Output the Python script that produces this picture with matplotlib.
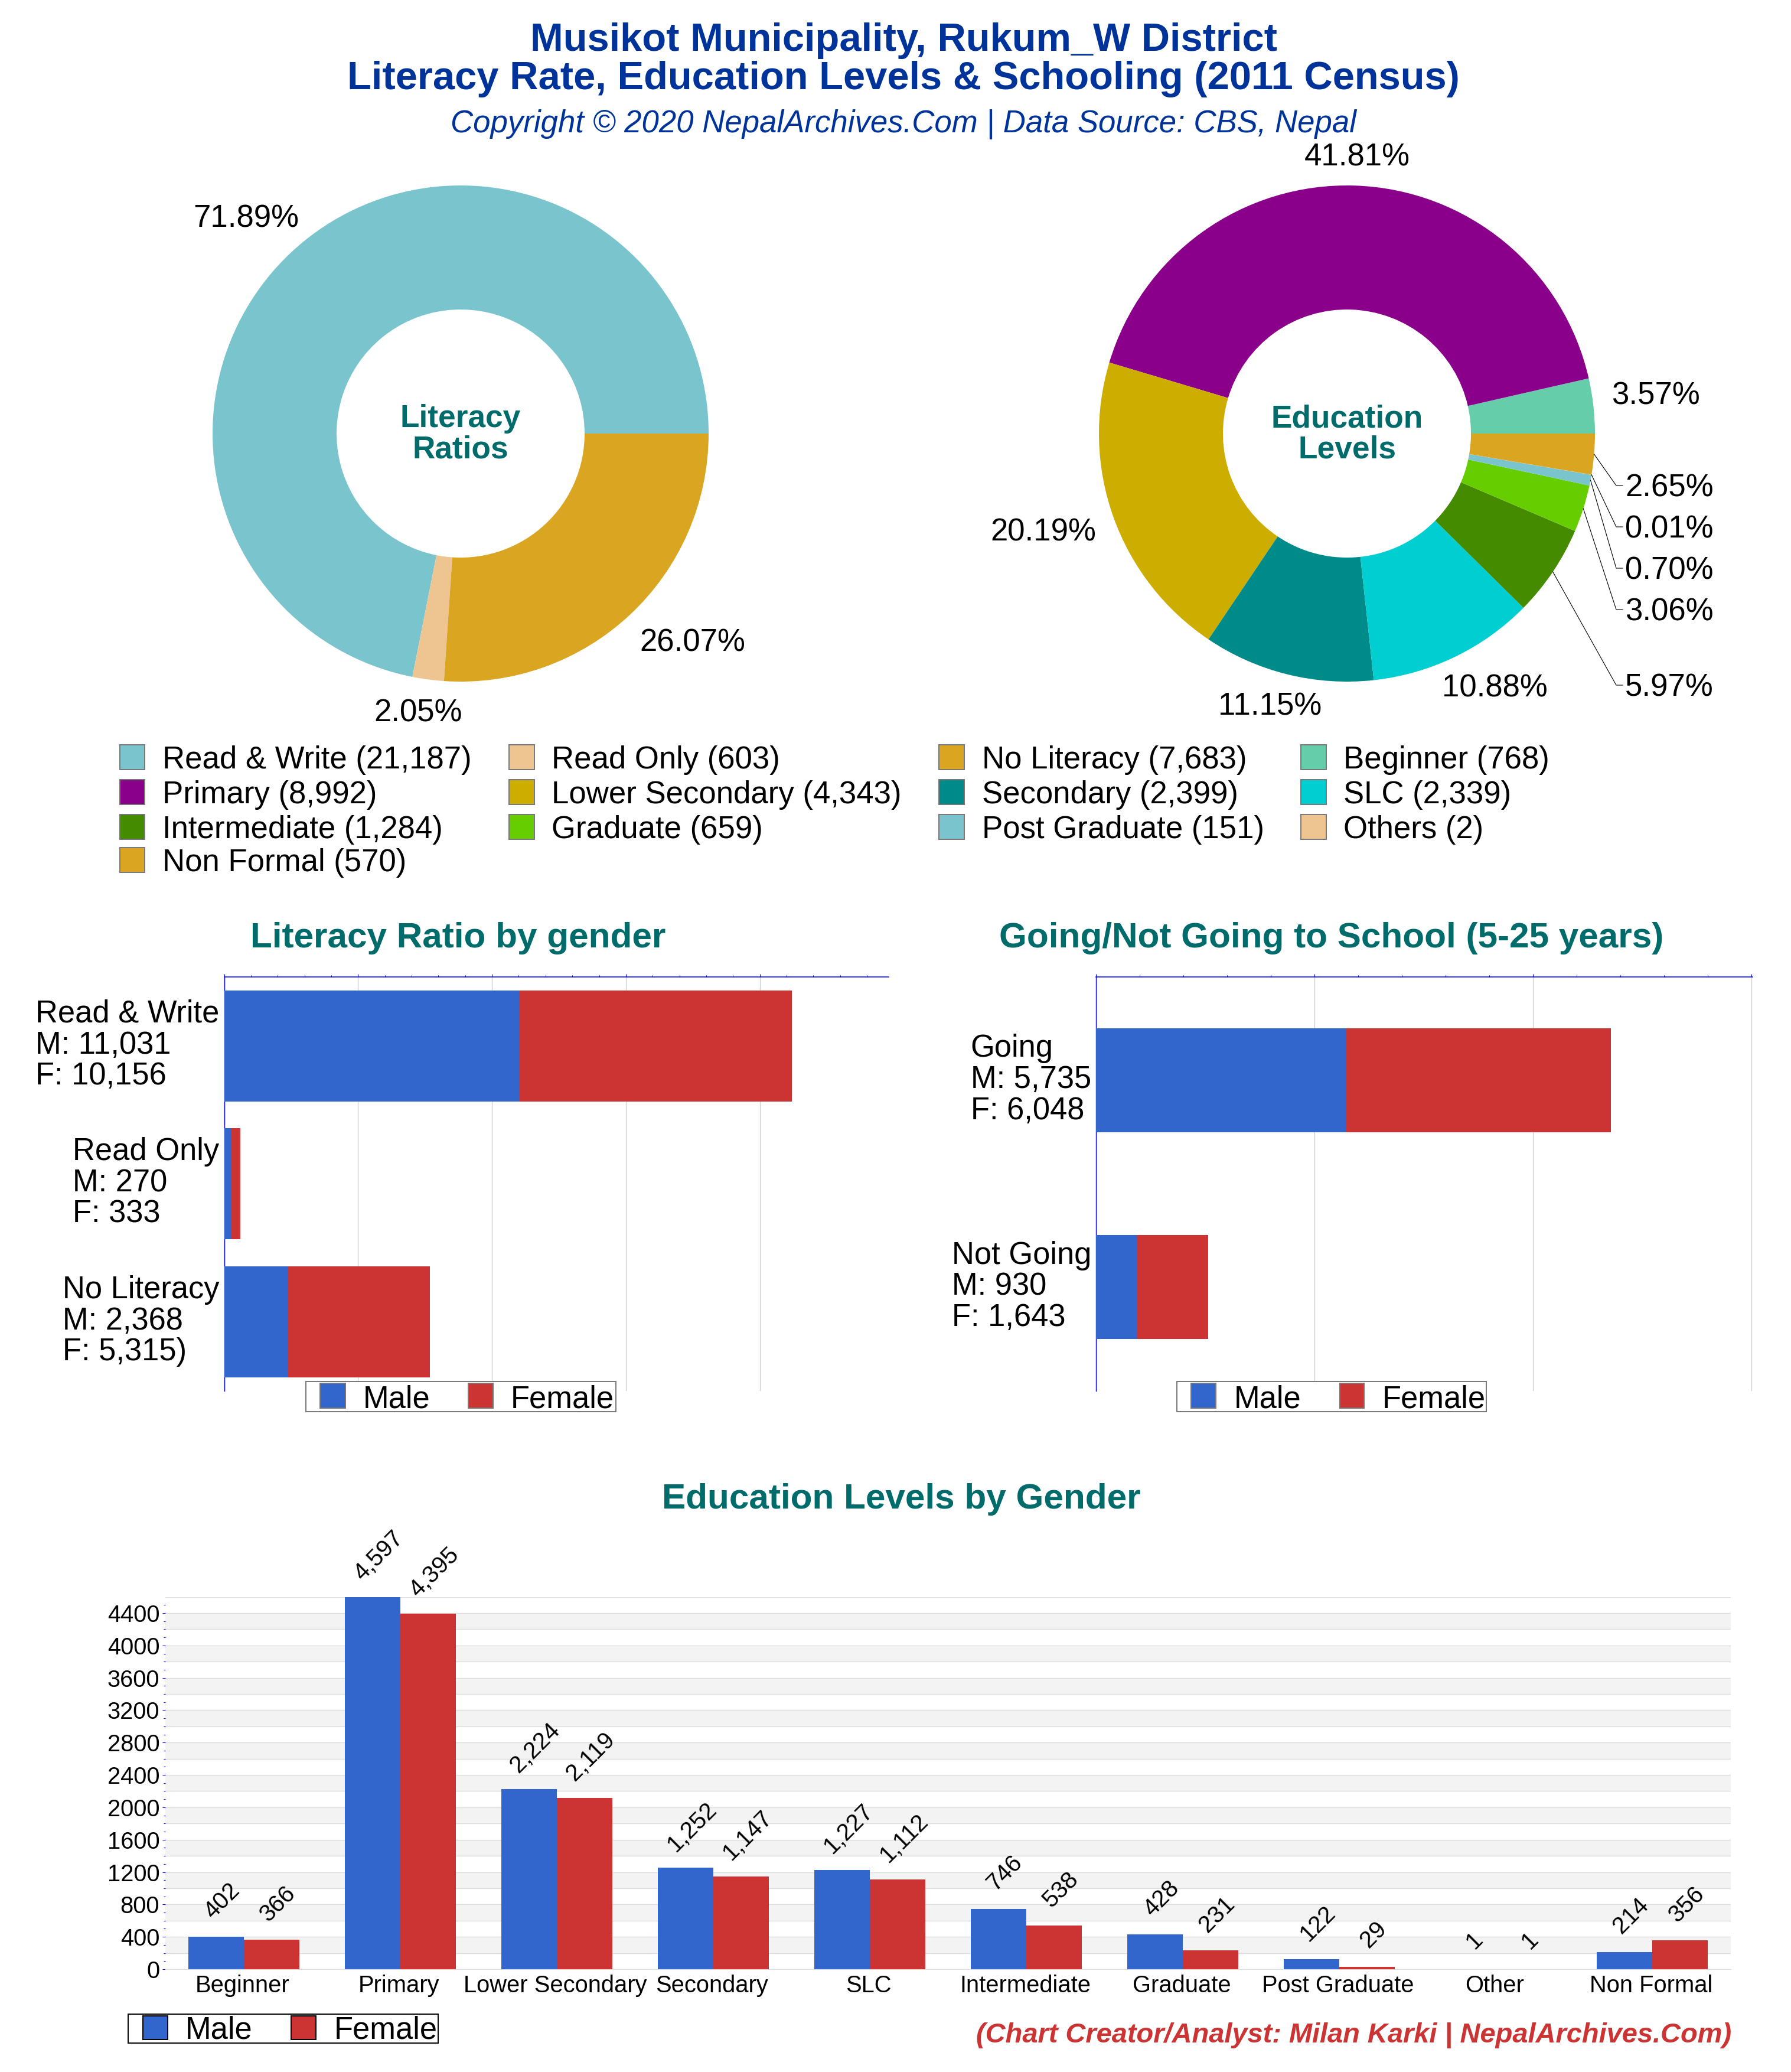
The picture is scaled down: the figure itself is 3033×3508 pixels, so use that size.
import matplotlib
matplotlib.use("Agg")
import matplotlib.pyplot as plt
from matplotlib.patches import Rectangle
from matplotlib.ticker import MultipleLocator
import numpy as np

plt.rcParams['font.family'] = ['Liberation Sans', 'DejaVu Sans']

W, H = 3033, 3508
DPI = 100
BLUE, RED = '#3366CC', '#CC3333'
TEAL = '#006B6B'
NAVY = '#003399'
AXIS = '#0000FF'

# ---------- data ----------
literacy_labels = ['Read & Write', 'Read Only', 'No Literacy']
literacy_values = [21187, 603, 7683]
literacy_colors = ['#7AC5CD', '#EEC591', '#DAA520']

edu_labels = ['Beginner', 'Primary', 'Lower Secondary', 'Secondary', 'SLC',
              'Intermediate', 'Graduate', 'Post Graduate', 'Others', 'Non Formal']
edu_values = [768, 8992, 4343, 2399, 2339, 1284, 659, 151, 2, 570]
edu_colors = ['#66CDAA', '#8B008B', '#CDAD00', '#008B8B', '#00CED1',
              '#458B00', '#66CD00', '#7AC5CD', '#EEC591', '#DAA520']

lit_bar_labels = ['Read & Write\nM: 11,031\nF: 10,156', 'Read Only\nM: 270\nF: 333',
                  'No Literacy\nM: 2,368\nF: 5,315)']
lit_male = [11031, 270, 2368]
lit_female = [10156, 333, 5315]

school_labels = ['Going\nM: 5,735\nF: 6,048', 'Not Going\nM: 930\nF: 1,643']
school_male = [5735, 930]
school_female = [6048, 1643]

level_labels = ['Beginner', 'Primary', 'Lower Secondary', 'Secondary', 'SLC',
                'Intermediate', 'Graduate', 'Post Graduate', 'Other', 'Non Formal']
level_male = [402, 4597, 2224, 1252, 1227, 746, 428, 122, 1, 214]
level_female = [366, 4395, 2119, 1147, 1112, 538, 231, 29, 1, 356]

legend_rows = [
    [('Read & Write (21,187)', '#7AC5CD'), ('Read Only (603)', '#EEC591'),
     ('No Literacy (7,683)', '#DAA520'), ('Beginner (768)', '#66CDAA')],
    [('Primary (8,992)', '#8B008B'), ('Lower Secondary (4,343)', '#CDAD00'),
     ('Secondary (2,399)', '#008B8B'), ('SLC (2,339)', '#00CED1')],
    [('Intermediate (1,284)', '#458B00'), ('Graduate (659)', '#66CD00'),
     ('Post Graduate (151)', '#7AC5CD'), ('Others (2)', '#EEC591')],
    [('Non Formal (570)', '#DAA520')],
]

# ---------- helpers ----------
fig = plt.figure(figsize=(W / DPI, H / DPI), dpi=DPI, facecolor='white')


def axes_px(x0, y0, x1, y1, **kw):
    return fig.add_axes([x0 / W, 1 - y1 / H, (x1 - x0) / W, (y1 - y0) / H], **kw)


ov = axes_px(0, 0, W, H, zorder=20)
ov.set_xlim(0, W)
ov.set_ylim(H, 0)
ov.axis('off')
ov.patch.set_alpha(0)


def txt(x, y, s, size, ha='center', **kw):
    """Text whose capital letters are centred vertically on y (pixels)."""
    base = y + 0.358 * size * DPI / 72
    return ov.text(x, base, s, fontsize=size, ha=ha, va='baseline', **kw)


def swatch(x0, y0, x1, y1, color, edge='#777777'):
    ov.add_patch(Rectangle((x0, y0), x1 - x0, y1 - y0, facecolor=color, edgecolor=edge, linewidth=1.4))


def bar_legend(box, sw1, t1, sw2, t2, y0, y1, ycenter, edge, boxedge):
    ov.add_patch(Rectangle((box[0], y0), box[1] - box[0], y1 - y0, facecolor='white', edgecolor=boxedge, linewidth=1.4))
    swatch(sw1[0], y0 + 3, sw1[1], y1 - 6, BLUE, edge)
    swatch(sw2[0], y0 + 3, sw2[1], y1 - 6, RED, edge)
    txt(t1, ycenter, 'Male', 37.8, ha='left', color='black')
    txt(t2, ycenter, 'Female', 37.8, ha='left', color='black')


# ---------- titles ----------
txt(1530, 62, 'Musikot Municipality, Rukum_W District', 48.2, color=NAVY, fontweight='bold')
txt(1530, 127, 'Literacy Rate, Education Levels & Schooling (2011 Census)', 48.2, color=NAVY, fontweight='bold')
txt(1530, 205, 'Copyright \u00a9 2020 NepalArchives.Com | Data Source: CBS, Nepal', 38, color=NAVY, fontstyle='italic')

# ---------- donuts ----------
R = 420


def donut(cx, cy, values, colors, l1, l2):
    ax = axes_px(cx - R, cy - R, cx + R, cy + R)
    ax.pie(values, colors=colors, startangle=0, counterclock=True, radius=1,
           wedgeprops=dict(width=0.5, linewidth=0))
    ax.set_xlim(-1, 1)
    ax.set_ylim(-1, 1)
    ax.set_aspect('equal')
    txt(cx, cy - 30, l1, 38.3, color=TEAL, fontweight='bold')
    txt(cx, cy + 22, l2, 38.3, color=TEAL, fontweight='bold')


def pct(values):
    return [f"{100 * v / sum(values):.2f}%" for v in values]


CX1, CX2, CY = 780, 2281, 734
donut(CX1, CY, literacy_values, literacy_colors, 'Literacy', 'Ratios')
donut(CX2, CY, edu_values, edu_colors, 'Education', 'Levels')

lit_pos = [(417, 366), (708, 1203), (1173, 1084)]
for (x, y), s in zip(lit_pos, pct(literacy_values)):
    txt(x, y, s, 38, color='black')

edu_pos = {0: (2804, 666), 1: (2298, 262), 2: (1767, 897), 3: (2151, 1192), 4: (2531, 1161)}
edu_text = pct(edu_values)
for i, (x, y) in edu_pos.items():
    txt(x, y, edu_text[i], 38, color='black')

# small slices with leader lines
cum = np.cumsum([0] + edu_values) / sum(edu_values)
mid = 2 * np.pi * (cum[:-1] + cum[1:]) / 2
leader_rows = {9: 822, 8: 892, 7: 962, 6: 1032, 5: 1160}
for i, y in leader_rows.items():
    sx = CX2 + R * np.cos(mid[i])
    sy = CY - R * np.sin(mid[i])
    ov.plot([sx, 2737, 2748], [sy, y, y], color='black', lw=0.8, solid_joinstyle='miter')
    txt(2752, y, edu_text[i], 38, ha='left', color='black')

# ---------- pie legend ----------
col_sw = [(203, 245), (862, 905), (1590, 1633), (2203, 2246)]
col_tx = [275, 934, 1663, 2275]
row_y = [1282, 1341, 1400, 1456]
for r, row in enumerate(legend_rows):
    for c, (label, color) in enumerate(row):
        swatch(col_sw[c][0], row_y[r] - 21, col_sw[c][1], row_y[r] + 21, color)
        txt(col_tx[c], row_y[r], label, 38, ha='left', color='black')

# ---------- stacked bars ----------


def stacked(ax, labels, male, female, xmax, height):
    y = np.arange(len(labels))
    ax.barh(y, male, height=height, color=BLUE, zorder=3)
    ax.barh(y, female, left=male, height=height, color=RED, zorder=3)
    ax.set_ylim(len(labels) - 0.5, -0.5)
    ax.set_xlim(0, xmax)
    ax.xaxis.tick_top()
    ax.xaxis.set_major_locator(MultipleLocator(5000))
    ax.xaxis.set_minor_locator(MultipleLocator(1000))
    ax.tick_params(axis='x', which='major', length=3.6, width=0.8, color=AXIS, labeltop=False)
    ax.tick_params(axis='x', which='minor', length=2.2, width=0.8, color=AXIS)
    ax.grid(axis='x', which='major', color='#CCCCCC', linewidth=0.9, zorder=0)
    ax.set_axisbelow(True)
    ax.set_yticks(y)
    ax.set_yticklabels([''] * len(labels))
    ax.tick_params(axis='y', length=0)
    for yi, lab in zip(y, labels):
        ax.annotate(lab, (0, yi), xytext=(-5.8, 0.8), textcoords='offset points',
                    fontsize=37.8, ha='right', va='center', ma='left', linespacing=1.07,
                    color='black', annotation_clip=False)
    for s in ('right', 'bottom'):
        ax.spines[s].set_visible(False)
    ax.spines['top'].set_color(AXIS)
    ax.spines['top'].set_linewidth(1.1)
    ax.spines['left'].set_color(AXIS)
    ax.spines['left'].set_linewidth(1.0)


ax1 = axes_px(379.5, 1654, 1504.5, 2354.5)
stacked(ax1, lit_bar_labels, lit_male, lit_female, 24800, 0.805)
txt(776, 1582, 'Literacy Ratio by gender', 43.4, color=TEAL, fontweight='bold')
bar_legend((518, 1043), (542, 585), 615, (793, 835), 865, 2339, 2390, 2365, '#777777', '#777777')

ax2 = axes_px(1856, 1654, 2968, 2354.5)
stacked(ax2, school_labels, school_male, school_female, 15030, 0.503)
txt(2255, 1582, 'Going/Not Going to School (5-25 years)', 43.4, color=TEAL, fontweight='bold')
bar_legend((1993, 2517), (2017, 2059), 2090, (2269, 2310), 2341, 2339, 2390, 2365, '#777777', '#777777')

# ---------- grouped bars ----------
ax3 = axes_px(280, 2704, 2931, 3334)
idx = np.arange(len(level_labels))
bw = 0.3546
ymax = max(level_male)
for b in np.arange(200, ymax, 400):
    ax3.axhspan(b, b + 200, color='#F3F3F3', linewidth=0, zorder=0)
for gy in np.arange(0, ymax + 1, 200):
    ax3.axhline(gy, color='#DDDDDD', linewidth=1.0, zorder=1)
ax3.axhline(ymax, color='#DDDDDD', linewidth=1.0, zorder=1)
ax3.bar(idx + 0.5 - bw / 2, level_male, width=bw, color=BLUE, zorder=3)
ax3.bar(idx + 0.5 + bw / 2, level_female, width=bw, color=RED, zorder=3)
ax3.set_xlim(0, len(level_labels))
ax3.set_ylim(0, ymax)
ax3.set_xticks(idx + 0.492)
ax3.set_xticklabels(level_labels, fontsize=28.7)
ax3.tick_params(axis='x', length=0, pad=6.5)
ax3.set_yticks(np.arange(0, 4401, 400))
ax3.set_yticklabels([str(v) for v in np.arange(0, 4401, 400)], fontsize=28.7)
ax3.yaxis.set_minor_locator(MultipleLocator(100))
ax3.tick_params(axis='y', which='major', length=3.6, width=0.8, color=AXIS, pad=3.5)
ax3.tick_params(axis='y', which='minor', length=2.2, width=0.8, color=AXIS)
for s in ('top', 'right', 'left'):
    ax3.spines[s].set_visible(False)
ax3.spines['bottom'].set_color('#DDDDDD')


def value_label(x, v):
    s = f"{v:,}"
    w = 22 * sum(ch.isdigit() for ch in s) + 11 * s.count(',')
    above = (43 + 0.27 * w) * 72 / DPI
    ax3.annotate(s, (x, v), xytext=(11 * 72 / DPI, above), textcoords='offset points',
                 fontsize=29, rotation=45, rotation_mode='anchor', ha='center', va='center',
                 color='black', annotation_clip=False, zorder=5)


for i in idx:
    value_label(i + 0.5 - bw / 2, level_male[i])
    value_label(i + 0.5 + bw / 2, level_female[i])

txt(1526, 2532, 'Education Levels by Gender', 43.4, color=TEAL, fontweight='bold')
bar_legend((217, 742), (242, 284), 314, (493, 535), 566, 3410, 3459, 3433, '#000000', '#000000')
txt(2932, 3441, '(Chart Creator/Analyst: Milan Karki | NepalArchives.Com)', 33.8, ha='right',
    color=RED, fontweight='bold', fontstyle='italic')

fig.savefig('out.png', dpi=DPI, facecolor='white')
